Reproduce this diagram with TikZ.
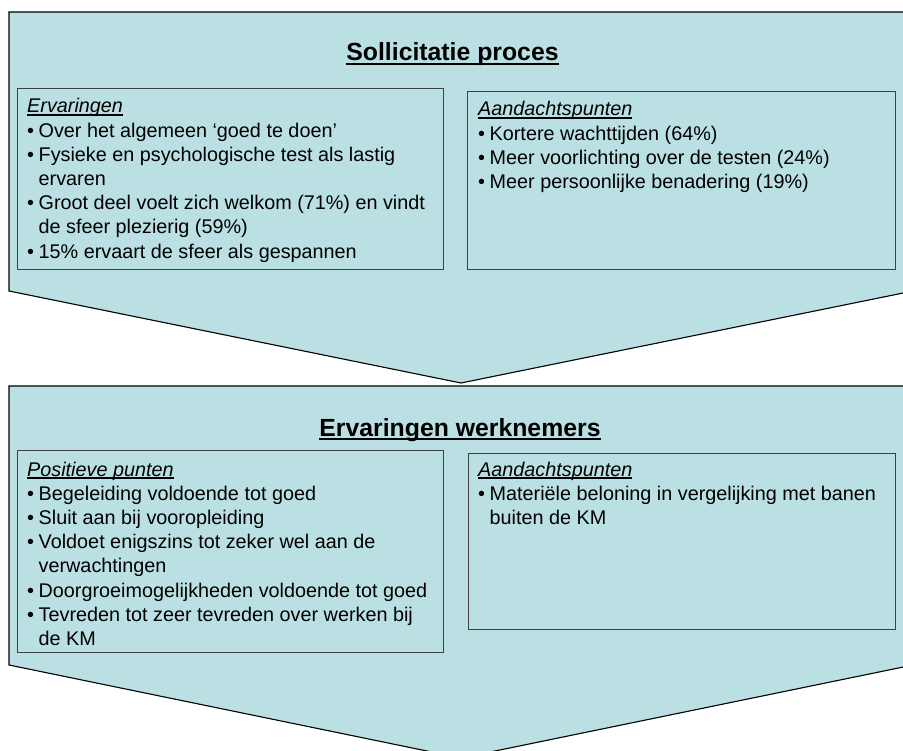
\documentclass[tikz,border=0pt]{standalone}
\usepackage{fontspec}
\setmainfont{Liberation Sans}
\definecolor{chev}{RGB}{187,224,227}
\newlength\ulw
\newcommand{\ult}[3]{\settowidth{\ulw}{#3}\rlap{\rule[-#1]{\ulw}{#2}}#3}
\newcommand{\hdr}[1]{\multicolumn{2}{@{}l@{}}{\ult{2.6pt}{1.2pt}{\itshape #1}}}
\newcommand{\bu}{\makebox[11.5pt][l]{•}}
\begin{document}
\begin{tikzpicture}[x=1pt,y=-1pt,
  chevron/.style={fill=chev,draw=black,line width=1.1pt,line join=miter},
  panel/.style={draw=black!75,line width=1.1pt,fill=chev,rectangle,inner sep=0pt,anchor=north west},
  body/.style={anchor=base west,inner sep=0pt,font=\fontsize{19.8}{24.2}\selectfont},
  title/.style={anchor=base,inner sep=0pt,font=\fontsize{24.8}{29}\selectfont\bfseries}]
\useasboundingbox (0,0) rectangle (903,751);
\clip (0,0) rectangle (903,751);
\fill[white] (0,0) rectangle (903,751);
% chevrons
\draw[chevron] (9,12) -- (913,12) -- (913,291) -- (461,383) -- (9,291) -- cycle;
\draw[chevron] (9,386) -- (913,386) -- (913,665) -- (461,758) -- (9,665) -- cycle;
% titles
\node[title] (t1) at (452.5,61) {\ult{4pt}{1.8pt}{Sollicitatie proces}};
\node[title] (t2) at (460,436) {\ult{4pt}{1.8pt}{Ervaringen werknemers}};
% panels
\node[panel,minimum width=426pt,minimum height=181pt] (p1) at (17,88) {};
\node[panel,minimum width=428pt,minimum height=178pt] (p2) at (467,91) {};
\node[panel,minimum width=426pt,minimum height=202pt] (p3) at (17,450) {};
\node[panel,minimum width=427pt,minimum height=176pt] (p4) at (468,453) {};
% panel texts
\node[body] (x1) at (27,113) {\begin{tabular}[t]{@{}l@{}l@{}}
\hdr{Ervaringen}\\
\bu & Over het algemeen ‘goed te doen’\\
\bu & Fysieke en psychologische test als lastig\\
 & ervaren\\
\bu & Groot deel voelt zich welkom (71\%) en vindt\\
 & de sfeer plezierig (59\%)\\
\bu & 15\% ervaart de sfeer als gespannen
\end{tabular}};
\node[body] (x2) at (478,116) {\begin{tabular}[t]{@{}l@{}l@{}}
\hdr{Aandachtspunten}\\
\bu & Kortere wachttijden (64\%)\\
\bu & Meer voorlichting over de testen (24\%)\\
\bu & Meer persoonlijke benadering (19\%)
\end{tabular}};
\node[body] (x3) at (27,476) {\begin{tabular}[t]{@{}l@{}l@{}}
\hdr{Positieve punten}\\
\bu & Begeleiding voldoende tot goed\\
\bu & Sluit aan bij vooropleiding\\
\bu & Voldoet enigszins tot zeker wel aan de\\
 & verwachtingen\\
\bu & Doorgroeimogelijkheden voldoende tot goed\\
\bu & Tevreden tot zeer tevreden over werken bij\\
 & de KM
\end{tabular}};
\node[body] (x4) at (478,476) {\begin{tabular}[t]{@{}l@{}l@{}}
\hdr{Aandachtspunten}\\
\bu & Materiële beloning in vergelijking met banen\\
 & buiten de KM
\end{tabular}};
\end{tikzpicture}
\end{document}
